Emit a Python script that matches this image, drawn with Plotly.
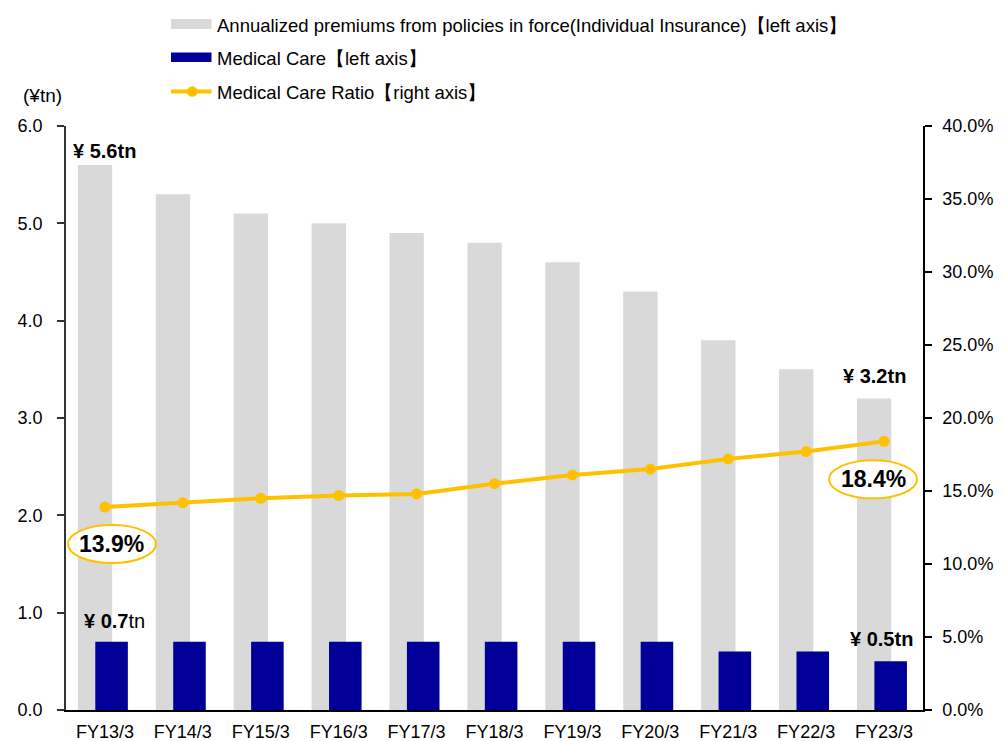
import plotly.graph_objects as go

categories = ["FY13/3", "FY14/3", "FY15/3", "FY16/3", "FY17/3", "FY18/3",
              "FY19/3", "FY20/3", "FY21/3", "FY22/3", "FY23/3"]
annualized_premiums = [5.6, 5.3, 5.1, 5.0, 4.9, 4.8, 4.6, 4.3, 3.8, 3.5, 3.2]
medical_care = [0.7, 0.7, 0.7, 0.7, 0.7, 0.7, 0.7, 0.7, 0.6, 0.6, 0.5]
medical_ratio = [13.9, 14.2, 14.5, 14.7, 14.8, 15.5, 16.1, 16.5, 17.2, 17.7, 18.4]

legend_labels = [
    "Annualized premiums from policies in force(Individual Insurance)【left axis】",
    "Medical Care【left axis】",
    "Medical Care Ratio【right axis】",
]

W, H = 1004, 741
ML, MR, MT, MB = 66, 81, 126, 31
PW, PH = W - ML - MR, H - MT - MB

GREY = "#D9D9D9"
NAVY = "#000099"
GOLD = "#FFC000"
FONT = "Liberation Sans, Arial, sans-serif"


def px_x(x):
    return (x - ML) / PW


def px_y(y):
    return (H - MB - y) / PH


fig = go.Figure()
fig.add_trace(go.Bar(x=categories, y=annualized_premiums, marker_color=GREY,
                     marker_line_width=0, offset=-0.348, width=0.441,
                     name=legend_labels[0], showlegend=False))
fig.add_trace(go.Bar(x=categories, y=medical_care, marker_color=NAVY,
                     marker_line_width=0, offset=-0.124, width=0.418,
                     name=legend_labels[1], showlegend=False))
fig.add_trace(go.Scatter(x=categories, y=medical_ratio, yaxis="y2",
                         mode="lines+markers",
                         line=dict(color=GOLD, width=4),
                         marker=dict(color=GOLD, size=11),
                         name=legend_labels[2], showlegend=False))

shapes = []
annotations = []

# custom legend
shapes.append(dict(type="rect", xref="paper", yref="paper",
                   x0=px_x(171), x1=px_x(211.5), y0=px_y(29), y1=px_y(19),
                   fillcolor=GREY, line_width=0))
shapes.append(dict(type="rect", xref="paper", yref="paper",
                   x0=px_x(171), x1=px_x(211.5), y0=px_y(62), y1=px_y(52.5),
                   fillcolor=NAVY, line_width=0))
shapes.append(dict(type="line", xref="paper", yref="paper",
                   x0=px_x(171), x1=px_x(211.5), y0=px_y(91.5), y1=px_y(91.5),
                   line=dict(color=GOLD, width=4)))
shapes.append(dict(type="circle", xref="paper", yref="paper",
                   x0=px_x(187), x1=px_x(197.5), y0=px_y(96.8), y1=px_y(86.3),
                   fillcolor=GOLD, line_width=0))
for lbl, yc in zip(legend_labels, [25, 59, 92]):
    annotations.append(dict(text=lbl, xref="paper", yref="paper",
                            x=px_x(215), y=px_y(yc), xanchor="left",
                            yanchor="middle", showarrow=False,
                            font=dict(size=18.5, color="#000", family=FONT)))

# axis title
annotations.append(dict(text="(¥tn)", xref="paper", yref="paper",
                        x=px_x(42), y=px_y(96), xanchor="center", yanchor="middle",
                        showarrow=False, font=dict(size=19, color="#000", family=FONT)))

# value labels
n = len(categories) - 1
lab_font = dict(size=20, color="#000", family=FONT)
annotations += [
    dict(text="<b>¥ %.1ftn</b>" % annualized_premiums[0], x=0, y=annualized_premiums[0],
         xref="x", yref="y", xanchor="center", yanchor="bottom", yshift=1, xshift=0,
         showarrow=False, font=lab_font),
    dict(text="<b>¥ %.1ftn</b>" % annualized_premiums[n], x=n, y=annualized_premiums[n],
         xref="x", yref="y", xanchor="center", yanchor="bottom", yshift=10, xshift=-10,
         showarrow=False, font=lab_font),
    dict(text="<b>¥ %.1f</b>tn" % medical_care[0], x=0, y=medical_care[0],
         xref="x", yref="y", xanchor="center", yanchor="bottom", yshift=8, xshift=10,
         showarrow=False, font=lab_font),
    dict(text="<b>¥ %.1ftn</b>" % medical_care[n], x=n, y=medical_care[n],
         xref="x", yref="y", xanchor="center", yanchor="bottom", yshift=9, xshift=-3,
         showarrow=False, font=lab_font),
]

for idx, dx, dy in [(0, 7, -37), (n, -11, -38)]:
    v = medical_ratio[idx]
    shapes.append(dict(type="circle", xref="x", yref="y2",
                       xsizemode="pixel", ysizemode="pixel",
                       xanchor=idx, yanchor=v,
                       x0=dx - 44, x1=dx + 44, y0=dy - 19, y1=dy + 19,
                       fillcolor="white", line=dict(color=GOLD, width=2)))
    annotations.append(dict(text="<b>%.1f%%</b>" % v, x=idx, y=v, xref="x", yref="y2",
                            xanchor="center", yanchor="middle",
                            xshift=dx, yshift=dy, showarrow=False,
                            font=dict(size=23, color="#000", family=FONT)))

fig.update_layout(
    width=W, height=H,
    margin=dict(l=ML, r=MR, t=MT, b=MB, pad=0, autoexpand=False),
    paper_bgcolor="white", plot_bgcolor="white",
    barmode="overlay",
    showlegend=False,
    font=dict(family=FONT, size=18, color="#000"),
    xaxis=dict(type="category", showline=True, linecolor="#000", linewidth=1.5,
               ticks="", showgrid=False, zeroline=False, automargin=False,
               ticklabelstandoff=5,
               tickfont=dict(size=18, color="#000"), range=[-0.5, 10.5]),
    yaxis=dict(range=[0, 6], dtick=1, tickformat=".1f", showline=True,
               linecolor="#333", linewidth=1.5, ticks="outside", ticklen=7,
               tickcolor="#333", tickwidth=1.5, showgrid=False, zeroline=False,
               automargin=False,
               ticklabelstandoff=11, tickfont=dict(size=18, color="#000")),
    yaxis2=dict(range=[0, 40], dtick=5, tickformat=".1f", ticksuffix="%",
                overlaying="y", side="right", showline=True, linecolor="#000",
                linewidth=1.5, ticks="outside", ticklen=7, tickcolor="#000",
                tickwidth=1.5, showgrid=False, zeroline=False, automargin=False,
                ticklabelstandoff=7, tickfont=dict(size=18, color="#000")),
    shapes=shapes,
    annotations=annotations,
)

fig.write_html("out.html", config={"displayModeBar": False},
               post_script="document.body.style.margin='0px';")
